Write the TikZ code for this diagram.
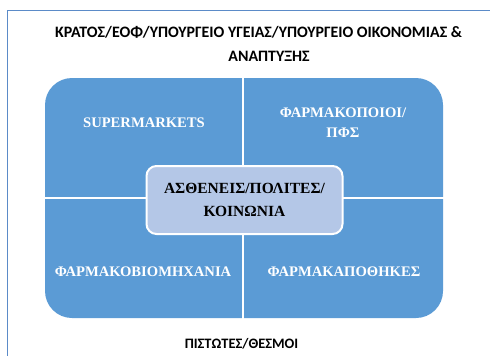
\documentclass[tikz,border=0pt]{standalone}
\usepackage{fontspec}
\setmainfont{Liberation Serif}
\newfontfamily\titlefont{Carlito}
\usepackage{tikz}
\usetikzlibrary{positioning}
\definecolor{quadblue}{HTML}{5B9BD5}
\definecolor{coreblue}{HTML}{B4C7E7}
\definecolor{frameblue}{HTML}{5B8BC8}
\tikzset{
	quadtext/.style={text=white, font=\fontsize{14.6}{20}\selectfont\bfseries, align=center},
	headtext/.style={text=black, font=\titlefont\fontsize{15.9}{18}\selectfont\bfseries},
	foottext/.style={text=black, font=\titlefont\fontsize{14.4}{18}\selectfont\bfseries},
	core/.style={draw=white, line width=2pt, fill=coreblue, rounded corners=10pt, minimum width=196pt, minimum height=68pt, align=center, font=\fontsize{15.5}{23}\selectfont\bfseries}
}

\begin{document}
\begin{tikzpicture}[x=1pt, y=-1pt]
			%%%%% START %%%%%
			
			\useasboundingbox (0, 0) rectangle (490, 356);
			
			\draw[frameblue, line width=1.6pt] (7.5, 356) -- (7.5, 10.5) -- (490, 10.5);
			
			\node[headtext] (title1) at (258.5, 32) {ΚΡΑΤΟΣ/ΕΟΦ/ΥΠΟΥΡΓΕΙΟ ΥΓΕΙΑΣ/ΥΠΟΥΡΓΕΙΟ ΟΙΚΟΝΟΜΙΑΣ \&};
			\node[headtext] (title2) at (269, 56) {ΑΝΑΠΤΥΞΗΣ};
			
			\fill[quadblue, rounded corners=27pt] (45, 78) rectangle (443, 318);
			\draw[white, line width=1.5pt] (243, 76) -- (243, 320);
			\draw[white, line width=1.5pt] (43, 198) -- (445, 198);
			
			\node[quadtext] (super) at (144, 123) {SUPERMARKETS};
			\node[quadtext] (pharm) at (343, 123) {ΦΑΡΜΑΚΟΠΟΙΟΙ/\\ΠΦΣ};
			\node[quadtext] (indus) at (143, 272) {ΦΑΡΜΑΚΟΒΙΟΜΗΧΑΝΙΑ};
			\node[quadtext] (whole) at (344, 272) {ΦΑΡΜΑΚΑΠΟΘΗΚΕΣ};
			
			\node[core] (people) at (244.5, 200) {ΑΣΘΕΝΕΙΣ/ΠΟΛΙΤΕΣ/\\ΚΟΙΝΩΝΙΑ};
			
			\node[foottext] (credit) at (241.5, 344) {ΠΙΣΤΩΤΕΣ/ΘΕΣΜΟΙ};
			
			%%%%% END %%%%%
		\end{tikzpicture}
\end{document}
